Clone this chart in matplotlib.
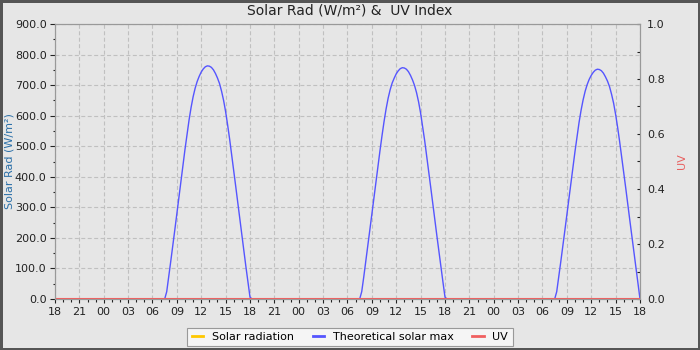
"""
Solar radiation / UV chart, three days.
"""
import numpy as np
import pandas as pd
import matplotlib
matplotlib.use('Agg')
import matplotlib.pyplot as plt
import matplotlib.dates as mdates
from matplotlib.lines import Line2D
from matplotlib.ticker import MultipleLocator, FormatStrFormatter

# time span of the chart
start = '2024-04-14 18:00'
end = '2024-04-17 18:00'

# theoretical solar max, 15-min steps starting at each day's 07:30
day_starts = ['2024-04-15 07:30', '2024-04-16 07:30', '2024-04-17 07:30']
day1 = [0, 24, 73, 124, 175, 227, 280, 333, 386, 438, 490, 539, 586, 627, 662,
        690, 712, 729, 743, 753, 760, 763, 762, 758, 750, 738, 723, 705, 680,
        650, 613, 569, 522, 471, 420, 367, 314, 261, 209, 157, 105, 56, 6, 0]
day2 = [0, 24, 72, 123, 174, 225, 278, 330, 383, 435, 486, 535, 581, 622, 657,
        685, 707, 723, 737, 747, 754, 757, 756, 752, 744, 732, 717, 699, 675,
        645, 608, 564, 518, 467, 417, 364, 311, 259, 207, 156, 104, 55, 6, 0]
day3 = [0, 24, 72, 122, 172, 224, 276, 328, 380, 432, 483, 531, 578, 618, 652,
        680, 702, 719, 732, 742, 749, 752, 751, 747, 739, 727, 713, 695, 670,
        641, 604, 561, 514, 464, 414, 362, 309, 257, 206, 155, 103, 55, 0]

legend_labels = ['Solar radiation', 'Theoretical solar max', 'UV']

times = pd.date_range(start, end, freq='15min')
theo = pd.Series(0.0, index=times)
for d0, vals in zip(day_starts, [day1, day2, day3]):
    idx = pd.date_range(d0, periods=len(vals), freq='15min')
    theo[idx] = vals
solar = pd.Series(0.0, index=times)   # measured radiation: flat zero
uv = pd.Series(0.0, index=times)      # UV: flat zero

c_solar = '#ffc800'
c_theo = '#5555ff'
c_uv = '#f06060'
bg = '#e6e6e6'
text_color = '#222222'

fig = plt.figure(figsize=(7, 3.5), dpi=100)
fig.patch.set_facecolor(bg)
fig.patch.set_edgecolor('#555555')
fig.patch.set_linewidth(3.5)

ax = fig.add_axes([55 / 700, 51 / 350, 585 / 700, 275 / 350])
ax.set_facecolor(bg)
ax.set_axisbelow(True)

ax.plot(times, solar, color=c_solar, lw=1)
ax.plot(times, theo, color=c_theo, lw=1)

ax2 = ax.twinx()
ax2.plot(times, uv, color=c_uv, lw=1.5)

ax.set_xlim(times[0], times[-1])
ax.set_ylim(0, 900)
ax2.set_ylim(0, 1)

ax.xaxis.set_major_locator(mdates.HourLocator(byhour=range(0, 24, 3)))
ax.xaxis.set_minor_locator(mdates.HourLocator())
ax.xaxis.set_major_formatter(mdates.DateFormatter('%H'))
ax.yaxis.set_major_locator(MultipleLocator(100))
ax.yaxis.set_minor_locator(MultipleLocator(50))
ax.yaxis.set_major_formatter(FormatStrFormatter('%.1f'))
ax2.yaxis.set_major_locator(MultipleLocator(0.2))
ax2.yaxis.set_minor_locator(MultipleLocator(0.1))
ax2.yaxis.set_major_formatter(FormatStrFormatter('%.1f'))

ax.grid(True, which='major', color='#c0c0c0', linestyle=(0, (3.6, 2.2)), lw=0.8)

for a in (ax, ax2):
    for spine in a.spines.values():
        spine.set_edgecolor('#999999')
        spine.set_linewidth(0.8)

ax.tick_params(axis='y', which='major', direction='out', length=3.6, width=0.8,
               color=text_color, labelcolor=text_color, labelsize=8, pad=2.5)
ax.tick_params(axis='y', which='minor', direction='out', length=1.6, width=0.8,
               color=text_color)
ax.tick_params(axis='x', which='major', direction='out', length=3, width=0.8,
               color=text_color, labelcolor=text_color, labelsize=8, pad=3)
ax.tick_params(axis='x', which='minor', direction='out', length=2.5, width=0.8,
               color=text_color)
ax2.tick_params(axis='y', which='major', direction='in', length=2.5, width=0.8,
                color=text_color, labelcolor=text_color, labelsize=8, pad=5)
ax2.tick_params(axis='y', which='minor', direction='in', length=2, width=0.8,
                color=text_color)

ax.set_ylabel('Solar Rad (W/m²)', color='#2a6fa8', fontsize=8, labelpad=0)
ax2.set_ylabel('UV', color='#e86060', fontsize=8, labelpad=9)

fig.text(0.5, 1 - 11 / 350, 'Solar Rad (W/m²) &  UV Index', ha='center',
         va='center', fontsize=10, color=text_color)

handles = [Line2D([], [], color=c, lw=2) for c in (c_solar, c_theo, c_uv)]
leg = fig.legend(handles, legend_labels, loc='center',
                 bbox_to_anchor=(0.5, 1 - 337 / 350), ncol=3, fontsize=8,
                 frameon=True, fancybox=False, edgecolor='#999999',
                 facecolor='#f5f5f5', framealpha=1, handlelength=1.0,
                 handletextpad=0.8, columnspacing=1.7, borderpad=0.4)
leg.get_frame().set_linewidth(0.8)

fig.savefig('out.png', dpi=100)
